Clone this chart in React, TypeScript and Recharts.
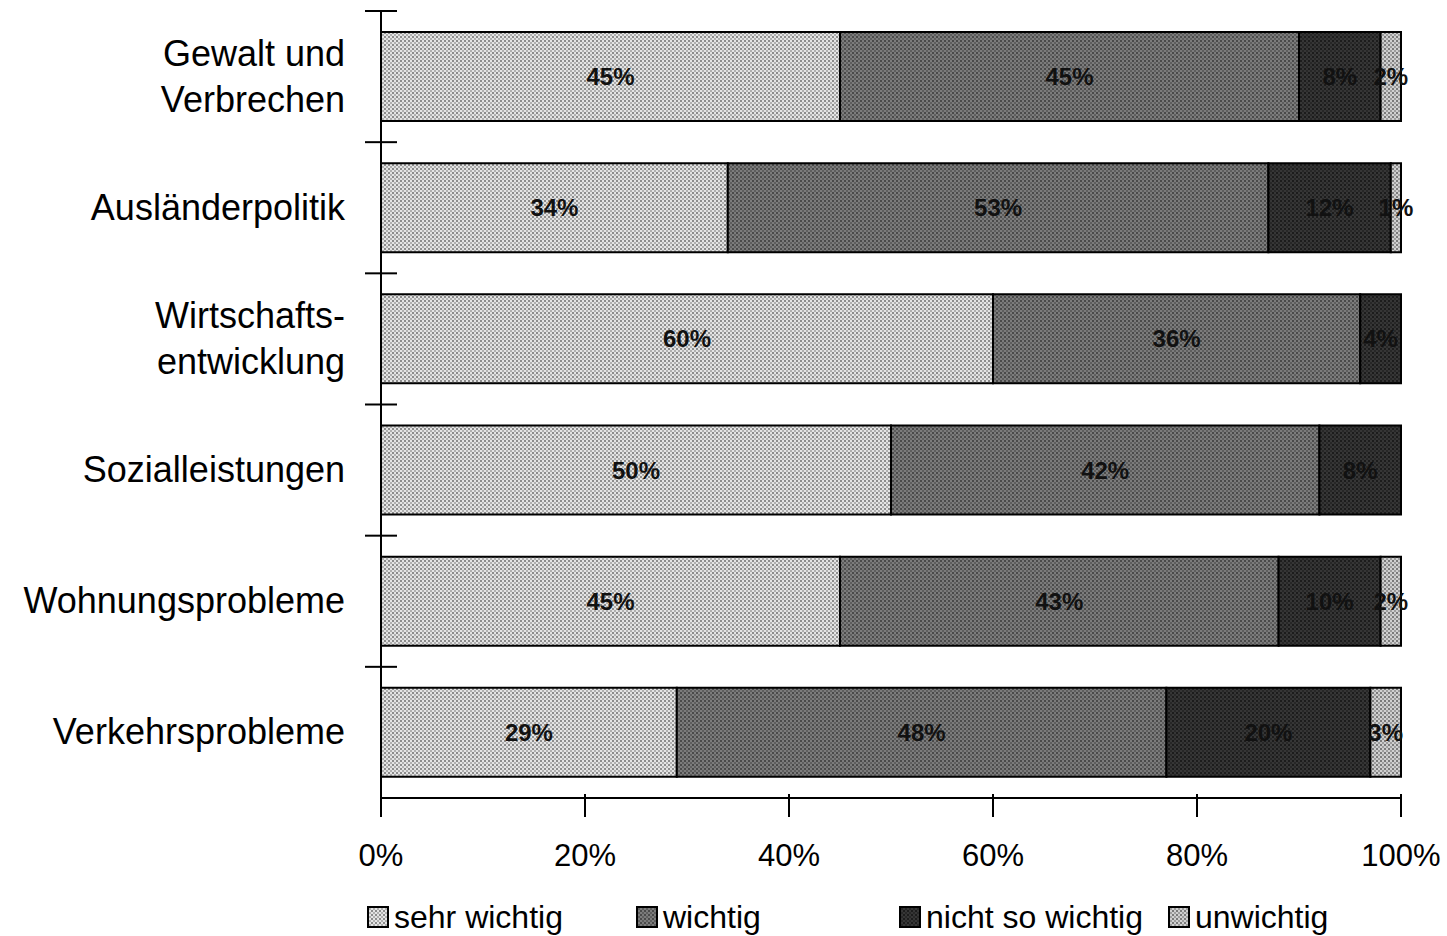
import { BarChart, Bar, XAxis, YAxis, Legend, LabelList } from "recharts";

const categories = [
  "Gewalt und\nVerbrechen",
  "Ausländerpolitik",
  "Wirtschafts-\nentwicklung",
  "Sozialleistungen",
  "Wohnungsprobleme",
  "Verkehrsprobleme",
];

const sehrWichtig = [45, 34, 60, 50, 45, 29];
const wichtig = [45, 53, 36, 42, 43, 48];
const nichtSoWichtig = [8, 12, 4, 8, 10, 20];
const unwichtig = [2, 1, 0, 0, 2, 3];

const xTicks = [0, 20, 40, 60, 80, 100];

const seriesNames = ["sehr wichtig", "wichtig", "nicht so wichtig", "unwichtig"];

const data = categories.map((name, i) => ({
  name,
  sehr: sehrWichtig[i],
  wichtig: wichtig[i],
  nicht: nichtSoWichtig[i],
  unw: unwichtig[i],
}));

const font = "Arial, 'Liberation Sans', sans-serif";

// dotted raster fills like the scanned print
const patterns = [
  { id: "pSehr", bg: "#e4e4e4", dot: "#8c8c8c" },
  { id: "pWichtig", bg: "#7c7c7c", dot: "#4a4a4a" },
  { id: "pNicht", bg: "#363636", dot: "#1c1c1c" },
  { id: "pUnw", bg: "#cfcfcf", dot: "#7a7a7a" },
];

const CategoryTick = (props: any) => {
  const { x, y, payload } = props;
  const lines = String(payload.value).split("\n");
  const step = 787 / categories.length;
  const tx = x - 28;
  return (
    <g>
      <line x1={x - 8} x2={x + 24} y1={y - step / 2} y2={y - step / 2} stroke="#000" strokeWidth={2} />
      <text x={tx} y={y} textAnchor="end" fontFamily={font} fontSize={36} fill="#000">
        {lines.map((l, i) => (
          <tspan key={i} x={tx} dy={i === 0 ? (lines.length === 1 ? 12 : -11) : 46}>
            {l}
          </tspan>
        ))}
      </text>
    </g>
  );
};

const PercentTick = (props: any) => {
  const { x, y, payload } = props;
  return (
    <g>
      <line x1={x} x2={x} y1={y - 12} y2={y + 11} stroke="#000" strokeWidth={2} />
      <text x={x} y={y + 60} textAnchor="middle" fontFamily={font} fontSize={31} fill="#000">
        {payload.value}%
      </text>
    </g>
  );
};

const LegendContent = () => {
  const lefts = [367, 636, 899, 1168];
  return (
    <div style={{ position: "relative", height: 60, fontFamily: font, fontSize: 32 }}>
      {seriesNames.map((n, i) => (
        <div
          key={n}
          style={{ position: "absolute", left: lefts[i], top: 24, display: "flex", alignItems: "center" }}
        >
          <svg width={22} height={22} style={{ marginRight: 5 }}>
            <rect x={1} y={1} width={20} height={20} fill={`url(#${patterns[i].id})`} stroke="#000" strokeWidth={2} />
          </svg>
          <span style={{ lineHeight: "34px" }}>{n}</span>
        </div>
      ))}
    </div>
  );
};

const fmt = (v: any) => (v ? `${v}%` : "");

export default function App() {
  const keys = ["sehr", "wichtig", "nicht", "unw"];
  return (
    <div style={{ position: "absolute", left: 0, top: 0, width: 1447, height: 936, background: "#fff" }}>
      <BarChart
        width={1447}
        height={936}
        data={data}
        layout="vertical"
        margin={{ top: 11, right: 46, left: 0, bottom: 0 }}
        barSize={89}
      >
        <defs>
          {patterns.map((p) => (
            <pattern key={p.id} id={p.id} width={4} height={4} patternUnits="userSpaceOnUse">
              <rect width={4} height={4} fill={p.bg} />
              <rect x={0} y={0} width={2} height={2} fill={p.dot} />
              <rect x={2} y={2} width={2} height={2} fill={p.dot} opacity={0.6} />
            </pattern>
          ))}
        </defs>
        <XAxis
          type="number"
          domain={[0, 100]}
          ticks={xTicks}
          height={78}
          axisLine={{ stroke: "#000", strokeWidth: 2 }}
          tickLine={false}
          tick={<PercentTick />}
          interval={0}
        />
        <YAxis
          type="category"
          dataKey="name"
          width={381}
          axisLine={{ stroke: "#000", strokeWidth: 2 }}
          tickLine={false}
          tick={<CategoryTick />}
          interval={0}
        />
        <Legend verticalAlign="bottom" height={60} content={<LegendContent />} />
        {keys.map((k, i) => (
          <Bar
            key={k}
            dataKey={k}
            name={seriesNames[i]}
            stackId="a"
            fill={`url(#${patterns[i].id})`}
            stroke="#000"
            strokeWidth={2}
            isAnimationActive={false}
          >
            <LabelList
              dataKey={k}
              position="center"
              formatter={fmt}
              style={{ fontFamily: font, fontSize: 24, fontWeight: "bold", fill: "#111" }}
            />
          </Bar>
        ))}
      </BarChart>
    </div>
  );
}
